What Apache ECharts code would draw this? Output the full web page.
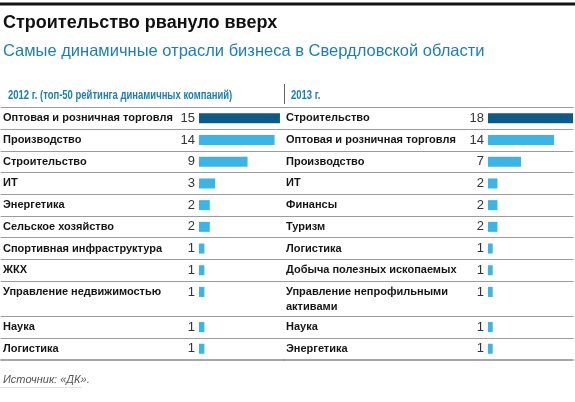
<!DOCTYPE html>
<html>
<head>
<meta charset="utf-8">
<script src="https://cdn.jsdelivr.net/npm/echarts@6/dist/echarts.min.js"></script>
<style>
  html, body { margin: 0; padding: 0; background: #fff; }
  #echart { width: 575px; height: 402px; }
</style>
</head>
<body>
<div id="echart"></div>
<script>
var chartTitle = 'Строительство рвануло вверх';
var chartSubtitle = 'Самые динамичные отрасли бизнеса в Свердловской области';
var sourceText = 'Источник: «ДК».';

var leftTitle = '2012 г. (топ-50 рейтинга динамичных компаний)';
var leftNames = ['Оптовая и розничная торговля', 'Производство', 'Строительство', 'ИТ', 'Энергетика',
    'Сельское хозяйство', 'Спортивная инфраструктура', 'ЖКХ', 'Управление недвижимостью', 'Наука', 'Логистика'];
var leftValues = [15, 14, 9, 3, 2, 2, 1, 1, 1, 1, 1];

var rightTitle = '2013 г.';
var rightNames = ['Строительство', 'Оптовая и розничная торговля', 'Производство', 'ИТ', 'Финансы',
    'Туризм', 'Логистика', 'Добыча полезных ископаемых', 'Управление непрофильными\nактивами', 'Наука', 'Энергетика'];
var rightValues = [18, 14, 7, 2, 2, 2, 1, 1, 1, 1, 1];

function drawTable(){
    if (typeof (echarts) === 'undefined') { console.log('echarts is undefined'); return; }
    var echart = echarts.init(document.getElementById('echart'));

    var font = '"Liberation Sans", Arial, sans-serif';
    var blue = '#1d7eb2';
    var lineColor = '#9c9c9c';
    var tableTop = 107.5, rowH = 21.7, extraLine = 13.4, labelLine = 15;

    // each column: grid box and where the zero of the bars sits
    var cols = [
        { names: leftNames, values: leftValues, left: 1, width: 283, zero: 198, max: 15.75, margin: 2 },
        { names: rightNames, values: rightValues, left: 284, width: 289, zero: 204, max: 18, margin: 2 }
    ];

    var grids = [], xAxes = [], yAxes = [], series = [];
    var rowCount = leftNames.length;

    cols.forEach(function (col) {
        var pxPerUnit = (col.width - col.zero) / col.max;
        var min = -col.zero / pxPerUnit;
        var top = tableTop;
        var biggest = Math.max.apply(null, col.values);
        for (var i = 0; i < rowCount; i++) {
            var lines = Math.max(leftNames[i].split('\n').length, rightNames[i].split('\n').length);
            var g = grids.length;
            grids.push({ left: col.left, top: top, width: col.width, height: rowH });

            var xi = xAxes.length;
            xAxes.push({
                type: 'value', gridIndex: g, position: 'top', min: min, max: col.max,
                axisLine: { show: true, onZero: false, lineStyle: { color: lineColor, width: 1 } },
                axisTick: { show: false }, axisLabel: { show: false }, splitLine: { show: false }
            });
            if (i === rowCount - 1) {
                xAxes.push({
                    type: 'value', gridIndex: g, position: 'bottom', min: min, max: col.max,
                    axisLine: { show: true, onZero: false, lineStyle: { color: '#8a8a8a', width: 1.6 } },
                    axisTick: { show: false }, axisLabel: { show: false }, splitLine: { show: false }
                });
            }
            var yi = yAxes.length;
            yAxes.push({
                type: 'category', gridIndex: g, data: [col.names[i]],
                axisLine: { show: false }, axisTick: { show: false }, splitLine: { show: false },
                axisLabel: {
                    inside: true, margin: col.margin, color: '#151515',
                    fontFamily: font, fontWeight: 'bold', fontSize: 11, lineHeight: labelLine,
                    // keep the first line of a wrapped name level with the bar
                    formatter: function (v) {
                        var n = v.split('\n').length;
                        return new Array(n).join('\n') + v;
                    }
                }
            });
            series.push({
                type: 'bar', xAxisIndex: xi, yAxisIndex: yi, barWidth: 10, silent: true,
                data: [{
                    value: col.values[i],
                    itemStyle: { color: col.values[i] === biggest ? '#0b5a87' : '#3cb4e6' }
                }],
                label: {
                    show: true, position: 'left', distance: 4,
                    color: '#333', fontFamily: font, fontSize: 13
                }
            });
            top += rowH + (lines - 1) * extraLine;
        }
    });

    var headStyle = { fontFamily: font, fontSize: 12, fontWeight: 'bold', fill: blue };

    echart.setOption({
        animation: false,
        backgroundColor: '#fff',
        title: [
            { text: chartTitle, left: 3, top: 14, padding: 0,
              textStyle: { fontFamily: font, fontSize: 18, fontWeight: 'bold', color: '#111' } },
            { text: chartSubtitle, left: 3, top: 43, padding: 0,
              textStyle: { fontFamily: font, fontSize: 16.5, fontWeight: 'normal', color: blue } },
            { text: sourceText, left: 3, top: 374, padding: 0,
              textStyle: { fontFamily: font, fontSize: 11, fontStyle: 'italic', fontWeight: 'normal', color: '#555' } }
        ],
        graphic: [
            { type: 'rect', shape: { x: 0, y: 2.5, width: 575, height: 3 }, style: { fill: '#141414' }, silent: true },
            { type: 'text', x: 8, y: 89.5, scaleX: 0.79, silent: true,
              style: Object.assign({ text: leftTitle }, headStyle) },
            { type: 'text', x: 291, y: 89.5, scaleX: 0.79, silent: true,
              style: Object.assign({ text: rightTitle }, headStyle) },
            { type: 'line', shape: { x1: 284.5, y1: 84, x2: 284.5, y2: 104 }, style: { stroke: '#666', lineWidth: 1 }, silent: true },
            { type: 'line', shape: { x1: 0, y1: 387.5, x2: 82, y2: 387.5 }, style: { stroke: '#e2e2e2', lineWidth: 1 }, silent: true }
        ],
        grid: grids,
        xAxis: xAxes,
        yAxis: yAxes,
        series: series
    });
}
drawTable();
</script>
</body>
</html>
